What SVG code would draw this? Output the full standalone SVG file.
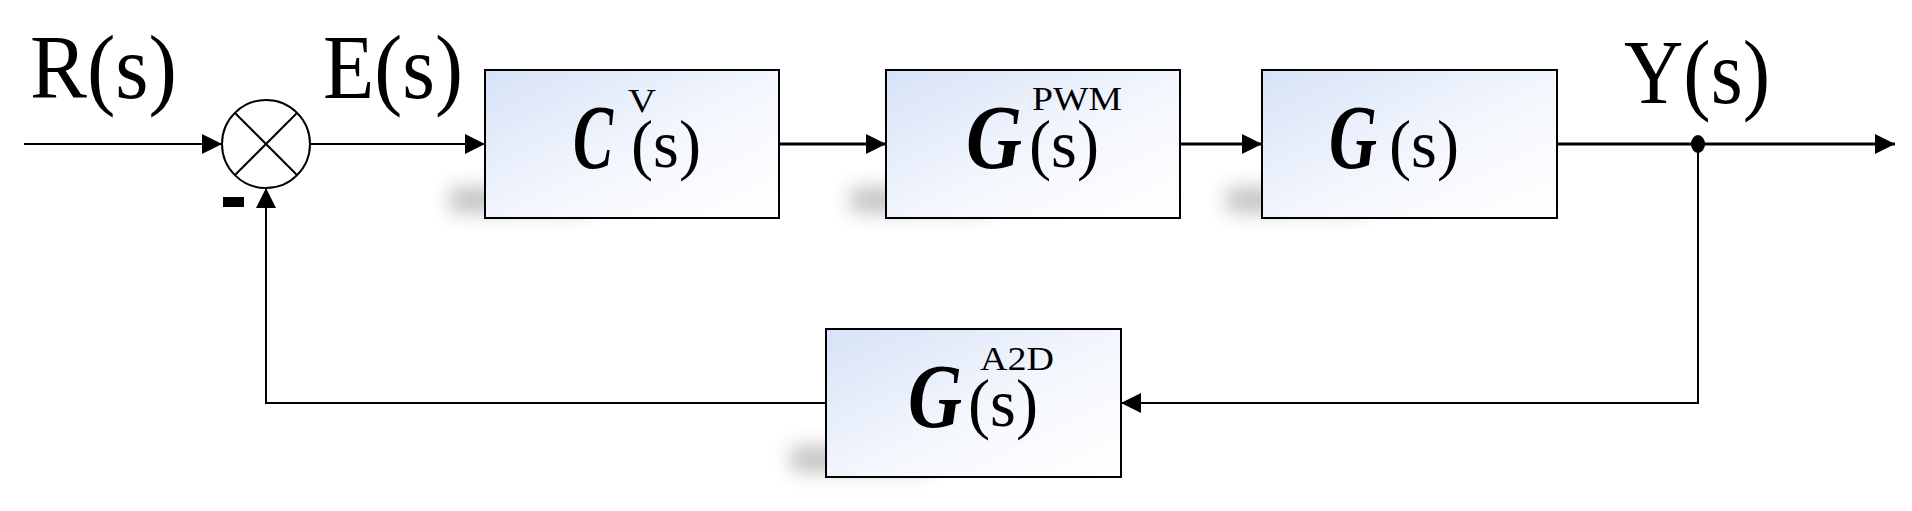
<svg xmlns="http://www.w3.org/2000/svg" width="1912" height="511" viewBox="0 0 1912 511">
<defs>
<linearGradient id="bg" x1="0" y1="0" x2="1" y2="1"><stop offset="0" stop-color="#d6e2f7"/><stop offset="0.55" stop-color="#f4f7fd"/><stop offset="1" stop-color="#ffffff"/></linearGradient>
<filter id="sh" x="-30%" y="-80%" width="160%" height="260%"><feGaussianBlur stdDeviation="10"/></filter>
<marker id="ar" viewBox="0 0 10 10" refX="10" refY="5" markerWidth="22" markerHeight="20" markerUnits="userSpaceOnUse" orient="auto"><path d="M0,0 L10,5 L0,10 z" fill="#000"/></marker>
<style>
.box{fill:url(#bg);stroke:#000;stroke-width:2}
.shd{fill:#000;opacity:0.25;filter:url(#sh)}
.ln{fill:none;stroke:#000;stroke-width:3}
.lb{font-family:"Liberation Serif",serif;font-size:92px;fill:#000}
.g{font-family:"Liberation Serif",serif;font-style:italic;font-weight:bold;font-size:90px;fill:#000}
.s{font-family:"Liberation Serif",serif;font-size:68px;fill:#000}
.sup{font-family:"Liberation Serif",serif;font-size:34px;fill:#000}
</style>
</defs>
<g id="labels">
<text class="lb" x="30" y="98" textLength="147" lengthAdjust="spacingAndGlyphs">R(s)</text>
<text class="lb" x="323" y="98" textLength="140" lengthAdjust="spacingAndGlyphs">E(s)</text>
<text class="lb" x="1624" y="103" textLength="146" lengthAdjust="spacingAndGlyphs">Y(s)</text>
</g>
<g id="connectors">
<line class="ln" x1="24" y1="144" x2="222" y2="144" marker-end="url(#ar)" style="stroke-width:2"/>
<line class="ln" x1="310" y1="144" x2="485" y2="144" marker-end="url(#ar)" style="stroke-width:2"/>
<line class="ln" x1="779" y1="144" x2="886" y2="144" marker-end="url(#ar)"/>
<line class="ln" x1="1180" y1="144" x2="1262" y2="144" marker-end="url(#ar)"/>
<line class="ln" x1="1557" y1="144" x2="1895" y2="144" marker-end="url(#ar)"/>
<polyline class="ln" points="1698,144 1698,403 1121,403" marker-end="url(#ar)" style="stroke-width:2"/>
<polyline class="ln" points="826,403 266,403 266,188" marker-end="url(#ar)" style="stroke-width:2"/>
<ellipse cx="1698" cy="144" rx="7" ry="9" fill="#000"/>
<rect x="223" y="197" width="21" height="10" fill="#000"/>
</g>
<g id="sum">
<circle cx="266" cy="144" r="44" fill="#fff" stroke="#000" stroke-width="2"/>
<line x1="235" y1="113" x2="297" y2="175" stroke="#000" stroke-width="2"/>
<line x1="297" y1="113" x2="235" y2="175" stroke="#000" stroke-width="2"/>
</g>
<g id="C">
<rect class="shd" x="450" y="188" width="140" height="24"/>
<rect class="box" x="485" y="70" width="294" height="148"/>
<text class="g" x="573" y="168" textLength="40" lengthAdjust="spacingAndGlyphs">C</text>
<text class="sup" x="628" y="112" textLength="28" lengthAdjust="spacingAndGlyphs">V</text>
<text class="s" x="631" y="167" textLength="70" lengthAdjust="spacingAndGlyphs">(s)</text>
</g>
<g id="PWM">
<rect class="shd" x="851" y="188" width="140" height="24"/>
<rect class="box" x="886" y="70" width="294" height="148"/>
<text class="g" x="966" y="168" textLength="56" lengthAdjust="spacingAndGlyphs">G</text>
<text class="sup" x="1032" y="110" textLength="90" lengthAdjust="spacingAndGlyphs">PWM</text>
<text class="s" x="1029" y="167" textLength="70" lengthAdjust="spacingAndGlyphs">(s)</text>
</g>
<g id="G">
<rect class="shd" x="1227" y="188" width="140" height="24"/>
<rect class="box" x="1262" y="70" width="295" height="148"/>
<text class="g" x="1329" y="168" textLength="48" lengthAdjust="spacingAndGlyphs">G</text>
<text class="s" x="1389" y="167" textLength="70" lengthAdjust="spacingAndGlyphs">(s)</text>
</g>
<g id="A2D">
<rect class="shd" x="791" y="447" width="140" height="24"/>
<rect class="box" x="826" y="329" width="295" height="148"/>
<text class="g" x="908" y="427" textLength="54" lengthAdjust="spacingAndGlyphs">G</text>
<text class="sup" x="980" y="370" textLength="74" lengthAdjust="spacingAndGlyphs">A2D</text>
<text class="s" x="968" y="426" textLength="70" lengthAdjust="spacingAndGlyphs">(s)</text>
</g>
</svg>
